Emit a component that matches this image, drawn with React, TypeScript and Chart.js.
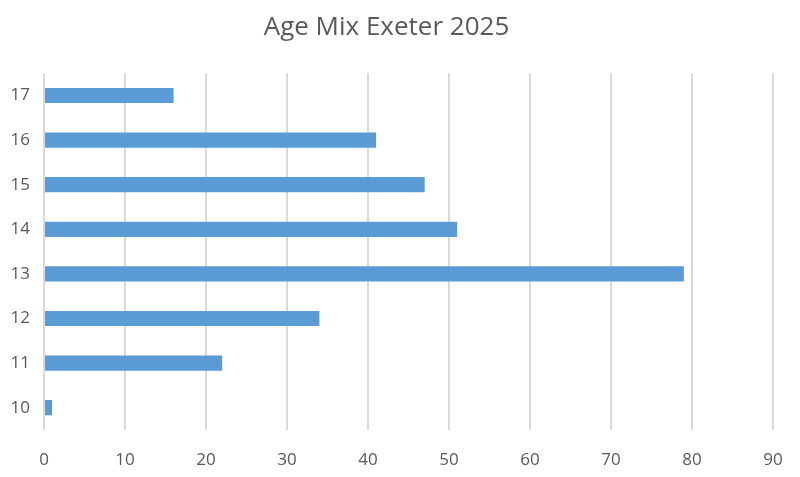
import React, { useEffect, useRef } from "react";
import { Chart, registerables } from "chart.js";

Chart.register(...registerables);

const categories = ["10", "11", "12", "13", "14", "15", "16", "17"];
const values = [1, 22, 34, 79, 51, 47, 41, 16];
const xTicks = [0, 10, 20, 30, 40, 50, 60, 70, 80, 90];
const title = "Age Mix Exeter 2025";

export default function App() {
  const ref = useRef<HTMLCanvasElement | null>(null);

  useEffect(() => {
    if (!ref.current) return;
    const chart = new Chart(ref.current, {
      type: "bar",
      data: {
        labels: categories,
        datasets: [
          {
            data: values,
            backgroundColor: "#5B9BD5",
            borderWidth: 0,
            barPercentage: 0.68,
            categoryPercentage: 0.5,
          },
        ],
      },
      options: {
        indexAxis: "y",
        animation: false,
        responsive: false,
        maintainAspectRatio: false,
        layout: { padding: { left: 0, right: 27, top: 0, bottom: 0 } },
        plugins: {
          legend: { display: false },
          tooltip: { enabled: false },
          title: {
            display: true,
            text: title,
            color: "#595959",
            font: { family: "'Open Sans', 'Liberation Sans', sans-serif", size: 26, weight: "normal" },
            padding: { top: 12, bottom: 30 },
          },
        },
        scales: {
          x: {
            min: 0,
            max: 90,
            afterBuildTicks: (scale: any) => {
              scale.ticks = xTicks.map((v) => ({ value: v }));
            },
            afterFit: (scale: any) => {
              scale.height = 47;
              scale.paddingRight = 0;
            },
            grid: { color: "#d9d9d9", lineWidth: 2, drawTicks: false },
            border: { display: false },
            ticks: {
              color: "#595959",
              padding: 20,
              font: { family: "'Open Sans', 'Liberation Sans', sans-serif", size: 17 },
            },
          },
          y: {
            reverse: true,
            afterFit: (scale: any) => {
              scale.width = 44;
            },
            grid: { display: false, drawTicks: false },
            border: { display: false },
            ticks: {
              color: "#595959",
              padding: 14,
              font: { family: "'Open Sans', 'Liberation Sans', sans-serif", size: 17 },
            },
          },
        },
      },
    });
    return () => chart.destroy();
  }, []);

  return (
    <div style={{ position: "absolute", left: 0, top: 0, width: 800, height: 477, background: "#fff" }}>
      <canvas ref={ref} width={800} height={477} style={{ width: 800, height: 477 }} />
    </div>
  );
}
